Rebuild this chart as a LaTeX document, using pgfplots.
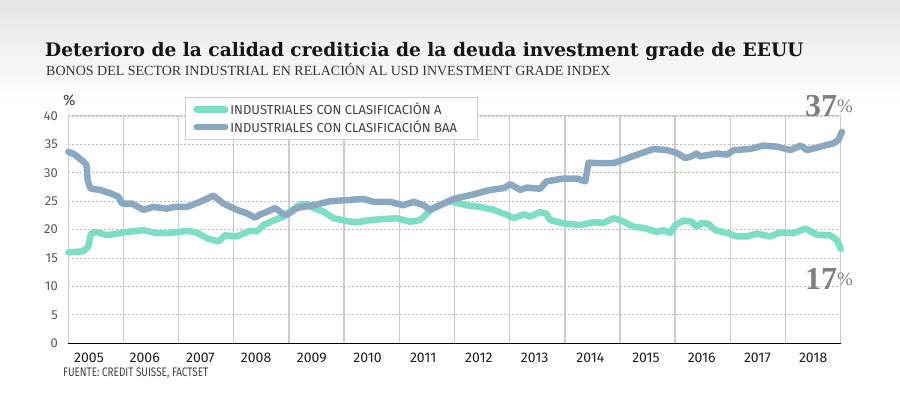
\documentclass[border=0pt]{standalone}
\usepackage{pgfplots}
\pgfplotsset{compat=1.18}
\usepackage{fontspec}
\setmainfont{Liberation Serif}
\newfontfamily\titlefont{DejaVu Serif}
\newfontfamily\condfont[FakeStretch=0.8]{Fira Sans}
\newfontfamily\labfont{Fira Sans}
\newfontfamily\yearfont{Fira Sans}
\definecolor{colA}{HTML}{7CDEC4}
\definecolor{colB}{HTML}{8AA8C0}
\definecolor{gridc}{HTML}{CDCDCD}
\definecolor{bigg}{HTML}{7F7F7F}
\definecolor{topg}{HTML}{E2E6E9}
\begin{document}
\begin{tikzpicture}[x=1pt,y=1pt]
\useasboundingbox (0,0) rectangle (900,398);
\fill[white] (0,0) rectangle (900,398);
\shade[top color=topg, bottom color=white] (0,295) rectangle (900,398);
\node[anchor=base west, inner sep=0, text=black!92] at (45,341.3) {\titlefont\bfseries\fontsize{18.6}{21}\selectfont Deterioro de la calidad crediticia de la deuda investment grade de EEUU};
\node[anchor=base west, inner sep=0, text=black!80] at (46,322) {\fontsize{14}{16}\selectfont BONOS DEL SECTOR INDUSTRIAL EN RELACIÓN AL USD INVESTMENT GRADE INDEX};
\node[anchor=base west, inner sep=0, text=black!75] at (63,292) {\labfont\fontsize{15}{15}\selectfont\%};
\node[anchor=base west, inner sep=0, text=black!75] at (63,21) {\condfont\fontsize{12.4}{13}\selectfont FUENTE: CREDIT SUISSE, FACTSET};
\begin{axis}[
  at={(68.3pt,54.7pt)}, anchor=south west, scale only axis,
  width=772.4pt, height=227.3pt,
  xmin=2005, xmax=2019, ymin=0, ymax=40,
  clip=false,
  axis line style={draw=gridc, line width=1pt},
  tick style={draw=none},
  minor tick length=0pt, major tick length=0pt,
  xtick={2005.375,2006.385,2007.394,2008.404,2009.413,2010.423,2011.433,2012.442,2013.452,2014.462,2015.471,2016.481,2017.490,2018.500},
  xticklabels={2005,2006,2007,2008,2009,2010,2011,2012,2013,2014,2015,2016,2017,2018},
  minor xtick={2006,2007,...,2018},
  xminorgrids,
  minor grid style={draw=gridc, line width=1.4pt},
  ytick={0,5,...,40},
  ymajorgrids,
  major grid style={draw=gray!50, dash pattern=on 2pt off 2pt, line width=0.8pt},
  /pgf/number format/assume math mode=true,
  yticklabel style={font=\labfont\fontsize{13}{14}\selectfont, text=black!65, anchor=east, xshift=-7pt},
  xticklabel style={font=\yearfont\fontsize{14}{16}\selectfont, text=black!88, anchor=base, yshift=-19.7pt},
  legend style={at={(0.1511,1.0836)}, anchor=north west, draw=gridc, fill=white, line width=0.8pt,
    font=\labfont\fontsize{13}{15}\selectfont, text=black!75, inner xsep=8pt, inner ysep=3.5pt,
    row sep=0pt, cells={anchor=west}},
  legend image code/.code={\path (0pt,0pt) -- (28.5pt,0pt);\draw[#1, line width=5.5pt, line cap=round] (5.5pt,0pt) -- (24.5pt,0pt);},
]
\addplot[colA, line width=6.5pt, line cap=round, line join=round] coordinates {
(2005.00,16.0) (2005.27,16.2) (2005.36,17.0) (2005.41,19.3) (2005.51,19.6) (2005.70,19.0)
(2005.94,19.4) (2006.06,19.6) (2006.36,19.9) (2006.60,19.4) (2006.84,19.4) (2007.15,19.8)
(2007.33,19.5) (2007.51,18.5) (2007.72,17.9) (2007.84,19.0) (2008.05,18.8) (2008.29,19.8)
(2008.42,19.7) (2008.54,20.8) (2008.72,21.6) (2008.90,22.3) (2009.02,23.2) (2009.20,24.4)
(2009.32,24.5) (2009.44,23.8) (2009.62,23.2) (2009.81,22.0) (2010.05,21.5) (2010.23,21.3)
(2010.47,21.7) (2010.77,21.9) (2010.95,22.0) (2011.20,21.4) (2011.38,21.7) (2011.56,23.4)
(2011.74,24.4) (2011.92,25.0) (2012.22,24.3) (2012.46,24.0) (2012.71,23.5) (2012.95,22.6)
(2013.07,22.0) (2013.25,22.7) (2013.37,22.3) (2013.55,23.1) (2013.67,22.8) (2013.73,21.7)
(2013.98,21.1) (2014.28,20.8) (2014.52,21.3) (2014.70,21.2) (2014.88,22.0) (2015.00,21.7)
(2015.25,20.5) (2015.43,20.3) (2015.67,19.6) (2015.79,19.9) (2015.91,19.4) (2016.00,20.8)
(2016.15,21.6) (2016.30,21.4) (2016.39,20.5) (2016.48,21.2) (2016.60,21.0) (2016.73,19.9)
(2016.94,19.4) (2017.12,18.8) (2017.30,18.8) (2017.48,19.3) (2017.72,18.8) (2017.90,19.5)
(2018.15,19.4) (2018.36,20.2) (2018.57,19.1) (2018.81,19.0) (2018.93,18.2) (2019.00,16.6)
};
\addlegendentry{INDUSTRIALES CON CLASIFICACIÓN A}
\addplot[colB, line width=6.5pt, line cap=round, line join=round] coordinates {
(2005.00,33.7) (2005.12,33.2) (2005.27,32.0) (2005.33,31.4) (2005.35,28.7) (2005.39,27.5)
(2005.42,27.2) (2005.57,27.0) (2005.76,26.4) (2005.91,25.8) (2005.97,24.6) (2006.15,24.6)
(2006.36,23.5) (2006.54,24.0) (2006.78,23.7) (2006.93,24.0) (2007.15,24.0) (2007.39,24.9)
(2007.63,26.0) (2007.81,24.6) (2008.05,23.5) (2008.23,22.9) (2008.39,22.1) (2008.48,22.7)
(2008.54,22.9) (2008.75,23.8) (2008.87,22.9) (2008.96,22.6) (2009.14,23.8) (2009.44,24.3)
(2009.75,25.0) (2010.05,25.2) (2010.35,25.4) (2010.53,24.9) (2010.83,24.9) (2011.07,24.3)
(2011.26,24.9) (2011.44,24.3) (2011.56,23.5) (2011.74,24.3) (2011.98,25.4) (2012.34,26.2)
(2012.65,27.0) (2012.89,27.3) (2013.01,28.0) (2013.19,27.0) (2013.31,27.4) (2013.55,27.2)
(2013.67,28.5) (2013.98,29.0) (2014.22,29.0) (2014.37,28.5) (2014.43,31.8) (2014.58,31.7)
(2014.88,31.7) (2015.06,32.3) (2015.25,33.0) (2015.43,33.6) (2015.61,34.2) (2015.85,34.0)
(2016.03,33.5) (2016.18,32.6) (2016.27,32.8) (2016.39,33.4) (2016.45,32.9) (2016.76,33.4)
(2016.94,33.2) (2017.06,34.0) (2017.36,34.2) (2017.60,34.8) (2017.85,34.6) (2018.09,34.0)
(2018.27,34.8) (2018.39,34.0) (2018.63,34.6) (2018.87,35.2) (2018.96,35.8) (2019.02,37.2)
};
\addlegendentry{INDUSTRIALES CON CLASIFICACIÓN BAA\hspace*{10pt}}
\draw[black, line width=1.5pt] (axis cs:2005,0) -- (axis cs:2019,0);
\end{axis}
\node[anchor=base west, inner sep=0, text=bigg] at (805,281) {\bfseries\fontsize{32}{32}\selectfont 37\raisebox{4pt}{\mdseries\fontsize{19}{19}\selectfont\%}};
\node[anchor=base west, inner sep=0, text=bigg] at (805,108) {\bfseries\fontsize{32}{32}\selectfont 17\raisebox{4pt}{\mdseries\fontsize{19}{19}\selectfont\%}};
\end{tikzpicture}
\end{document}
